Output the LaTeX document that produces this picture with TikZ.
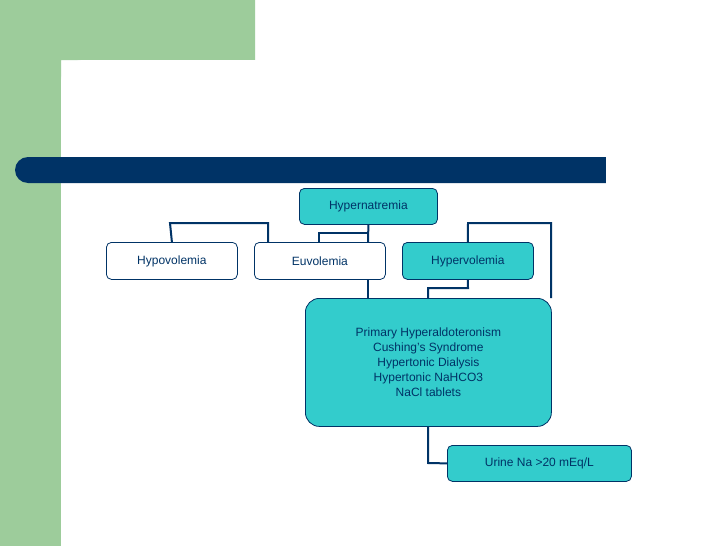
\documentclass[tikz,border=0pt]{standalone}
\usepackage{fontspec}
\setmainfont{Liberation Sans}
\definecolor{teal1}{HTML}{33CCCC}
\definecolor{navy}{HTML}{003366}
\definecolor{green1}{HTML}{9DCC9B}
\begin{document}
\begin{tikzpicture}[x=1pt,y=-1pt,
 box/.style={draw=navy,line width=0.8pt,rounded corners=5pt,text=navy,font=\fontsize{12}{14}\selectfont,anchor=north west,inner sep=0pt},
 ln/.style={draw=navy,line width=2pt}]
\useasboundingbox (0,0) rectangle (728,546);
\fill[white] (0,0) rectangle (728,546);
\fill[green1] (0,0) rectangle (255,60) (0,0) rectangle (61,546);
\fill[white,rounded corners=22pt] (61,60) rectangle (760,600);
\fill[white] (61,300) rectangle (255,546);
\fill[white] (61,300) rectangle (760,546);
\fill[green1] (0,300) rectangle (61,546);
\fill[navy,rounded corners=13pt] (15,157) rectangle (640,183);
\fill[navy] (560,157) rectangle (606,183);
\fill[white] (606,150) rectangle (728,190);
\node[box,fill=teal1,minimum width=138pt,minimum height=36pt] (hn) at (299,188) {};
\node[text=navy,font=\fontsize{12}{14}\selectfont] at (hn.center) {Hypernatremia};
\node[box,fill=white,minimum width=131pt,minimum height=37pt] (hypo) at (106,242) {};
\node[text=navy,font=\fontsize{12}{14}\selectfont] at (hypo.center) {Hypovolemia};
\node[box,fill=white,minimum width=131pt,minimum height=37pt] (eu) at (254,242) {};
\node[text=navy,font=\fontsize{12}{14}\selectfont] at (eu.center) {Euvolemia};
\node[box,fill=teal1,minimum width=131pt,minimum height=37pt] (hyper) at (402,242) {};
\node[text=navy,font=\fontsize{12}{14}\selectfont] at (hyper.center) {Hypervolemia};
\node[box,fill=teal1,minimum width=246pt,minimum height=128pt,rounded corners=14pt] (big) at (305,298) {};
\node[text=navy,font=\fontsize{12}{15}\selectfont,align=center] at (big.center) {Primary Hyperaldoteronism\\Cushing’s Syndrome\\Hypertonic Dialysis\\Hypertonic NaHCO3\\NaCl tablets};
\node[box,fill=teal1,minimum width=184pt,minimum height=36pt] (urine) at (447,445) {};
\node[text=navy,font=\fontsize{12}{14}\selectfont] at (urine.center) {Urine Na >20 mEq/L};
\draw[ln] (hypo.north) -- (170,223) -- (268,223) -- (268,242);
\draw[ln] (hn.south) -- (368,242);
\draw[ln] (368,233) -- (319,233) -- (319,242);
\draw[ln] (368,279) -- (368,298);
\draw[ln] (hyper.north) -- (468,223) -- (551,223) -- (551,298);
\draw[ln] (hyper.south) -- (468,288) -- (428,288) -- (428,298);
\draw[ln] (428,426) -- (428,463) -- (urine.west);
\end{tikzpicture}
\end{document}
